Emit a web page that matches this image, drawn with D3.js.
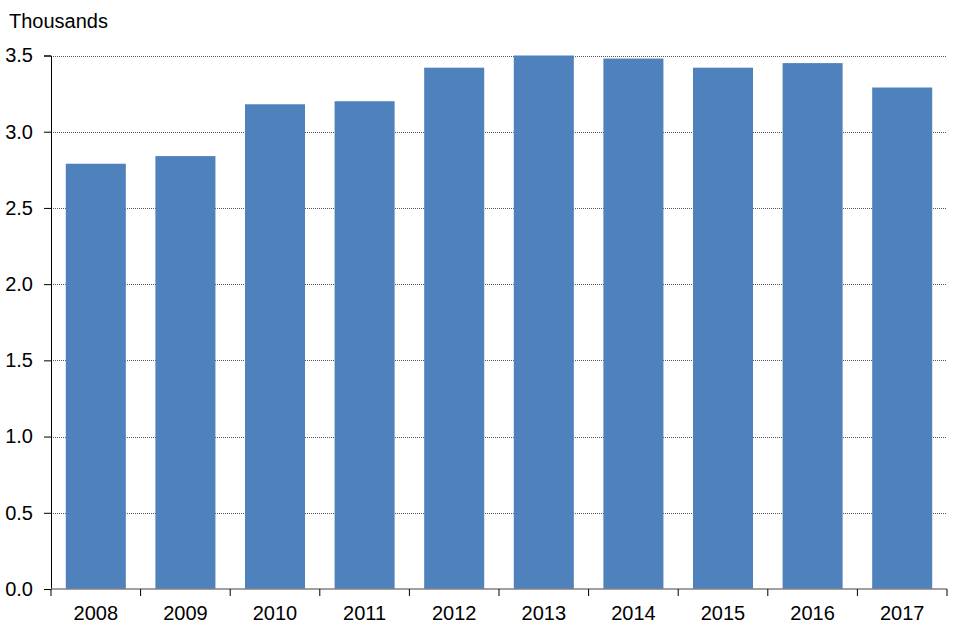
<!DOCTYPE html>
<html><head><meta charset="utf-8">
<script src="https://cdn.jsdelivr.net/npm/d3@7"></script>
<style>body{margin:0;background:#fff}svg{display:block}text{font-family:"Liberation Sans",Arial,sans-serif}</style>
</head><body>
<svg id="c" width="960" height="640"></svg>
<script>
const years = ["2008","2009","2010","2011","2012","2013","2014","2015","2016","2017"];
const values = [2.79, 2.84, 3.18, 3.20, 3.42, 3.50, 3.48, 3.42, 3.45, 3.29];
const yTicks = [0, 0.5, 1.0, 1.5, 2.0, 2.5, 3.0, 3.5];
const yLabel = "Thousands";

const svg = d3.select("#c");
const m = {l:51, r:13, t:55.5, b:51};
const W = 960, H = 640;
const FS = 20;
const x = d3.scaleBand().domain(years).range([m.l, W - m.r]).paddingInner(0.33).paddingOuter(0.165);
const xb = d3.scaleBand().domain(years).range([m.l, W - m.r]);
const y = d3.scaleLinear().domain([0, 3.5]).range([H - m.b, m.t]);

// gridlines
svg.append("g").selectAll("line").data(yTicks.filter(d => d > 0)).join("line")
  .attr("x1", m.l).attr("x2", W - m.r)
  .attr("y1", d => Math.round(y(d)) + 0.5).attr("y2", d => Math.round(y(d)) + 0.5)
  .attr("stroke", "#555").attr("stroke-width", 1).attr("stroke-dasharray", "1,1");

// bars
svg.append("g").selectAll("rect").data(years).join("rect")
  .attr("x", d => x(d)).attr("width", x.bandwidth())
  .attr("y", (d, i) => y(values[i])).attr("height", (d, i) => y(0) - y(values[i]))
  .attr("fill", "#4F81BD");

// y axis
const ya = svg.append("g").attr("transform", `translate(${m.l},0)`)
  .call(d3.axisLeft(y).tickValues(yTicks).tickFormat(d3.format(".1f")).tickSize(7).tickPadding(11));
ya.select(".domain").attr("stroke", "#000");
ya.selectAll(".tick line").attr("stroke", "#000");
ya.selectAll("text").attr("font-size", FS).attr("fill", "#000").attr("font-family", '"Liberation Sans",Arial,sans-serif');

// x axis
const xa = svg.append("g").attr("transform", `translate(0,${y(0)})`)
  .call(d3.axisBottom(xb).tickSize(0).tickPadding(17));
xa.select(".domain").attr("stroke", "#808080").attr("stroke-width", 1.5).attr("d", `M${m.l},0H${W - m.r}`);
xa.selectAll("text").attr("font-size", FS).attr("fill", "#000").attr("font-family", '"Liberation Sans",Arial,sans-serif');
// boundary ticks
const bounds = years.map(d => xb(d)).concat([W - m.r]);
xa.append("g").selectAll("line").data(bounds).join("line")
  .attr("x1", d => d).attr("x2", d => d).attr("y1", 0).attr("y2", 7)
  .attr("stroke", "#000");

svg.append("text").attr("x", 9).attr("y", 28).attr("font-size", FS).attr("fill", "#000").text(yLabel);
</script>
</body></html>
